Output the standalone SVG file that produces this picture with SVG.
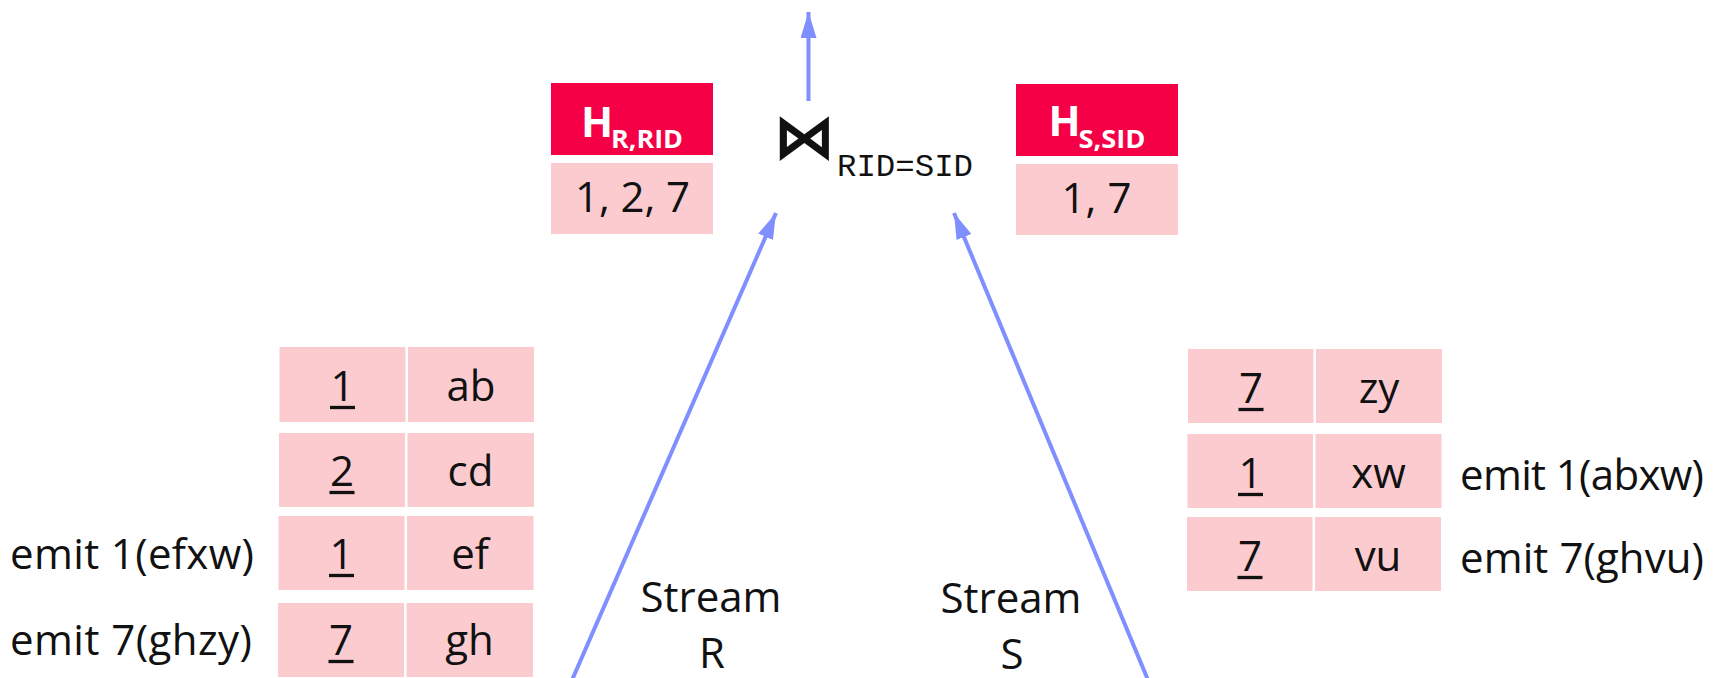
<svg xmlns="http://www.w3.org/2000/svg" width="1719" height="678" viewBox="0 0 1719 678">
<defs>
<marker id="ah" markerUnits="userSpaceOnUse" markerWidth="28" markerHeight="18" refX="26" refY="8" orient="auto">
<path d="M0,0 L26,8 L0,16 Z" fill="#7F8FFF"/>
</marker>
<style>
.t{font-family:"Open Sans","Noto Sans",sans-serif;font-size:42px;fill:#111;}
.c{text-anchor:middle;}
.cell{fill:#FCCBD0;}
.hd{fill:#F50046;}
.ht{font-family:"Open Sans","Noto Sans",sans-serif;font-weight:bold;font-size:42px;fill:#fff;}
.sub{font-size:25px;}
.ul{stroke:#111;stroke-width:3.3;}
.arr{stroke:#7F8FFF;stroke-width:4;fill:none;marker-end:url(#ah);}
.mono{font-family:"Liberation Mono","DejaVu Sans Mono",monospace;font-size:32px;fill:#111;}
</style>
</defs>
<rect width="1719" height="678" fill="#fff"/>

<g id="connectors">
<line class="arr" x1="808.5" y1="101" x2="808.5" y2="12"/>
<line class="arr" x1="572" y1="680" x2="776" y2="213"/>
<line class="arr" x1="1148" y1="680" x2="954" y2="213"/>
</g>

<g id="join">
<text x="804" y="158" font-family="DejaVu Sans,sans-serif" font-size="62" font-weight="bold" fill="#111" text-anchor="middle">⋈</text>
<text class="mono" x="837" y="176" textLength="136" lengthAdjust="spacingAndGlyphs">RID=SID</text>
</g>

<g id="hash-r">
<rect class="hd" x="551" y="83" width="162" height="72"/>
<text class="ht" x="581" y="137">H<tspan class="sub" x="611" dy="11" textLength="72" lengthAdjust="spacingAndGlyphs">R,RID</tspan></text>
<rect class="cell" x="551" y="163" width="162" height="71"/>
<text class="t c" x="632.5" y="212" font-size="40" textLength="115" lengthAdjust="spacing">1, 2, 7</text>
</g>

<g id="hash-s">
<rect class="hd" x="1016" y="84" width="162" height="72"/>
<text class="ht" x="1048.5" y="136">H<tspan class="sub" x="1078.5" dy="12" textLength="67" lengthAdjust="spacingAndGlyphs">S,SID</tspan></text>
<rect class="cell" x="1016" y="164" width="162" height="71"/>
<text class="t c" x="1096.5" y="213" font-size="40">1, 7</text>
</g>

<g id="stream-r-label">
<text class="t c" x="711" y="612">Stream</text>
<text class="t c" x="712" y="668">R</text>
</g>
<g id="stream-s-label">
<text class="t c" x="1011" y="613">Stream</text>
<text class="t c" x="1012" y="669">S</text>
</g>

<g id="table-r">
<g id="r-row1">
<rect class="cell" x="279.5" y="347" width="126" height="75"/>
<rect class="cell" x="408" y="347" width="126" height="75"/>
<text class="t c" x="342.5" y="401">1</text>
<line class="ul" x1="330" y1="407.5" x2="355" y2="407.5"/>
<text class="t c" x="471" y="401">ab</text>
</g>
<g id="r-row2">
<rect class="cell" x="279" y="433" width="126" height="74"/>
<rect class="cell" x="407.5" y="433" width="126.5" height="74"/>
<text class="t c" x="342" y="486">2</text>
<line class="ul" x1="329.5" y1="492.5" x2="354.5" y2="492.5"/>
<text class="t c" x="470.5" y="486">cd</text>
</g>
<g id="r-row3">
<rect class="cell" x="278.5" y="516" width="126" height="74"/>
<rect class="cell" x="407" y="516" width="126.5" height="74"/>
<text class="t c" x="341.5" y="569">1</text>
<line class="ul" x1="329" y1="575.5" x2="354" y2="575.5"/>
<text class="t c" x="470" y="569">ef</text>
</g>
<g id="r-row4">
<rect class="cell" x="278" y="603" width="126" height="74"/>
<rect class="cell" x="406.5" y="603" width="126.5" height="74"/>
<text class="t c" x="341" y="655">7</text>
<line class="ul" x1="328.5" y1="661.5" x2="353.5" y2="661.5"/>
<text class="t c" x="469.5" y="655">gh</text>
</g>
</g>

<g id="table-s">
<g id="s-row1">
<rect class="cell" x="1188" y="349" width="125.5" height="74"/>
<rect class="cell" x="1316" y="349" width="126" height="74"/>
<text class="t c" x="1251" y="403">7</text>
<line class="ul" x1="1238.5" y1="409.5" x2="1263.5" y2="409.5"/>
<text class="t c" x="1379" y="403">zy</text>
</g>
<g id="s-row2">
<rect class="cell" x="1187.5" y="434" width="125.5" height="74"/>
<rect class="cell" x="1315.5" y="434" width="126" height="74"/>
<text class="t c" x="1250.5" y="488">1</text>
<line class="ul" x1="1238" y1="494.5" x2="1263" y2="494.5"/>
<text class="t c" x="1378.5" y="488">xw</text>
</g>
<g id="s-row3">
<rect class="cell" x="1187" y="517" width="125.5" height="74"/>
<rect class="cell" x="1315" y="517" width="126" height="74"/>
<text class="t c" x="1250" y="571">7</text>
<line class="ul" x1="1237.5" y1="577.5" x2="1262.5" y2="577.5"/>
<text class="t c" x="1378" y="571">vu</text>
</g>
</g>

<g id="emit-labels">
<text class="t" x="10" y="569" textLength="244" lengthAdjust="spacing">emit 1(efxw)</text>
<text class="t" x="10" y="655" textLength="242" lengthAdjust="spacing">emit 7(ghzy)</text>
<text class="t" x="1460" y="490" textLength="244" lengthAdjust="spacing">emit 1(abxw)</text>
<text class="t" x="1460" y="573" textLength="244" lengthAdjust="spacing">emit 7(ghvu)</text>
</g>
</svg>
